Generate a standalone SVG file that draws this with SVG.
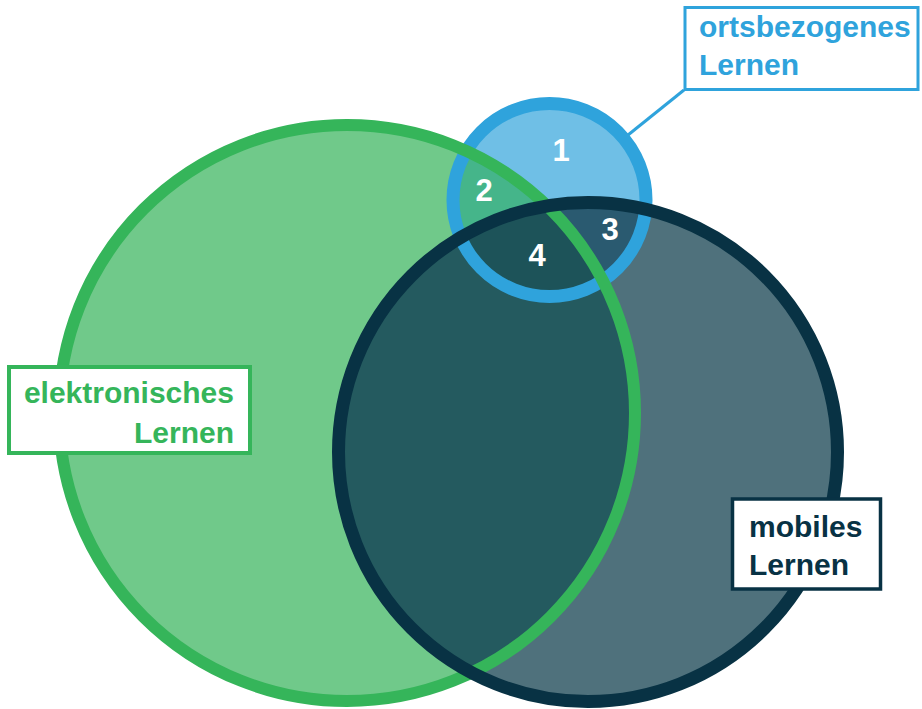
<svg xmlns="http://www.w3.org/2000/svg" width="922" height="709" viewBox="0 0 922 709">
  <style>
    .lbl { font-family: "Liberation Sans", Arial, sans-serif; font-weight: bold; font-size: 30px; }
    .num { font-family: "Liberation Sans", Arial, sans-serif; font-weight: bold; font-size: 31px; fill: #ffffff; text-anchor: middle; }
    .box { fill: #ffffff; }
  </style>
  <defs>
    <clipPath id="cGreen"><circle cx="347" cy="413" r="288"/></clipPath>
    <clipPath id="cDark"><circle cx="588" cy="452" r="249.5"/></clipPath>
    <clipPath id="cBlue"><circle cx="549.5" cy="200" r="96.5"/></clipPath>
  </defs>

  <g id="fills">
    <circle cx="347" cy="413" r="288" fill="#70c98a"/>
    <circle cx="588" cy="452" r="249.5" fill="#4f717c"/>
    <g clip-path="url(#cGreen)"><circle cx="588" cy="452" r="249.5" fill="#245a5f"/></g>
    <circle cx="549.5" cy="200" r="96.5" fill="#6fbfe6"/>
    <g clip-path="url(#cBlue)">
      <circle cx="347" cy="413" r="288" fill="#45b58a"/>
      <circle cx="588" cy="452" r="249.5" fill="#2a5a70"/>
      <g clip-path="url(#cGreen)"><circle cx="588" cy="452" r="249.5" fill="#1d5359"/></g>
    </g>
  </g>

  <g id="connectors">
    <line x1="684" y1="90" x2="628" y2="135" stroke="#2fa3dc" stroke-width="3"/>
  </g>

  <g id="ortsbezogen">
    <circle cx="549.5" cy="200" r="96.5" fill="none" stroke="#2fa3dc" stroke-width="13"/>
  </g>
  <g id="elektronisch">
    <circle cx="347" cy="413" r="288" fill="none" stroke="#35b55a" stroke-width="12"/>
  </g>
  <g id="mobil">
    <circle cx="588" cy="452" r="249.5" fill="none" stroke="#083244" stroke-width="13"/>
  </g>

  <g id="regions">
    <text class="num" x="561" y="161">1</text>
    <text class="num" x="484" y="201">2</text>
    <text class="num" x="610" y="240">3</text>
    <text class="num" x="537" y="266">4</text>
  </g>

  <g id="label-ortsbezogen">
    <rect class="box" x="685" y="7.5" width="233" height="82" stroke="#2fa3dc" stroke-width="3"/>
    <text class="lbl" fill="#2fa3dc" x="699" y="37">ortsbezogenes</text>
    <text class="lbl" fill="#2fa3dc" x="699" y="75">Lernen</text>
  </g>
  <g id="label-elektronisch">
    <rect class="box" x="9" y="367" width="241" height="86" stroke="#35b55a" stroke-width="4"/>
    <text class="lbl" fill="#35b55a" x="234" y="403" text-anchor="end">elektronisches</text>
    <text class="lbl" fill="#35b55a" x="234" y="443" text-anchor="end">Lernen</text>
  </g>
  <g id="label-mobil">
    <rect class="box" x="732.5" y="499" width="148" height="90" stroke="#083244" stroke-width="3.5"/>
    <text class="lbl" fill="#083244" x="749" y="537">mobiles</text>
    <text class="lbl" fill="#083244" x="749" y="575">Lernen</text>
  </g>
</svg>
